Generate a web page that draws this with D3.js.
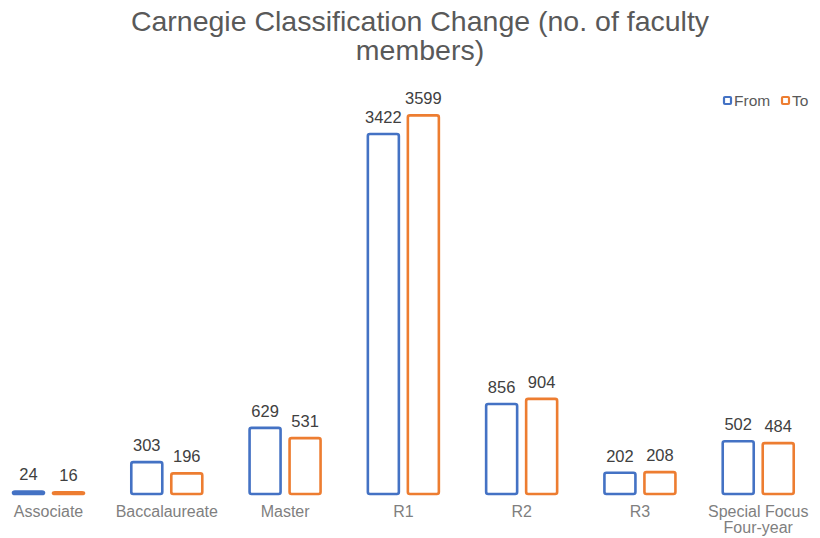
<!DOCTYPE html>
<html><head><meta charset="utf-8">
<script src="https://cdn.jsdelivr.net/npm/d3@7"></script>
<style>body{margin:0;background:#fff}svg{display:block}</style>
</head><body><svg id="c" width="820" height="538" font-family="'Liberation Sans', Arimo, Arial, Helvetica, sans-serif"></svg>
<script>
const categories = ["Associate","Baccalaureate","Master","R1","R2","R3","Special Focus\nFour-year"];
const seriesNames = ["From","To"];
const fromValues = [24,303,629,3422,856,202,502];
const toValues = [16,196,531,3599,904,208,484];
const colors = ["#4472C4","#ED7D31"];

const svg = d3.select("#c");
const x = d3.scaleBand().domain(categories).range([-10.6, 817.4]).paddingInner(0).paddingOuter(0);
const x1 = d3.scaleBand().domain(seriesNames).range([19.1, 99.1]).padding(0);
const barW = 31;
const y = d3.scaleLinear().domain([0, 3600]).range([494, 115.3]);

svg.append("text").attr("x", 420).attr("y", 31).attr("text-anchor","middle")
  .attr("font-size", 28.5).attr("fill","#595959").text("Carnegie Classification Change (no. of faculty");
svg.append("text").attr("x", 420).attr("y", 60).attr("text-anchor","middle")
  .attr("font-size", 28.5).attr("fill","#595959").text("members)");

const data = categories.map((c,i)=>({cat:c, vals:[fromValues[i], toValues[i]]}));
const g = svg.selectAll("g.cat").data(data).join("g").attr("class","cat")
  .attr("transform", d=>`translate(${x(d.cat)},0)`);

const bars = g.selectAll("g.bar").data(d=>d.vals.map((v,j)=>({v, s:seriesNames[j], j}))).join("g").attr("class","bar");
bars.append("rect")
  .attr("x", d=>x1(d.s)+(x1.bandwidth()-barW)/2).attr("width", barW)
  .attr("y", d=>y(d.v)).attr("height", d=>Math.max(0, y(0)-y(d.v)))
  .attr("rx", 2).attr("fill","none")
  .attr("stroke", d=>colors[d.j]).attr("stroke-width", 2.6);
bars.append("text").attr("x", d=>x1(d.s)+x1.bandwidth()/2).attr("y", d=>y(d.v)-11)
  .attr("text-anchor","middle").attr("font-size",16.5).attr("fill","#404040").text(d=>d.v);

g.append("text").attr("text-anchor","middle").attr("font-size",16).attr("fill","#7f7f7f")
  .selectAll("tspan").data(d=>d.cat.split("\n")).join("tspan")
  .attr("x", x.bandwidth()/2).attr("y",(d,i)=>517+i*16).text(d=>d);

const leg = svg.append("g").selectAll("g").data(seriesNames).join("g")
  .attr("transform",(d,i)=>`translate(${[723,781][i]},96)`);
leg.append("rect").attr("x",1).attr("y",1).attr("width",7).attr("height",7)
  .attr("fill","#fff").attr("stroke",(d,i)=>colors[i]).attr("stroke-width",2.2).attr("rx",1);
leg.append("text").attr("x",11).attr("y",10).attr("font-size",15.5).attr("fill","#595959").text(d=>d);
</script></body></html>
